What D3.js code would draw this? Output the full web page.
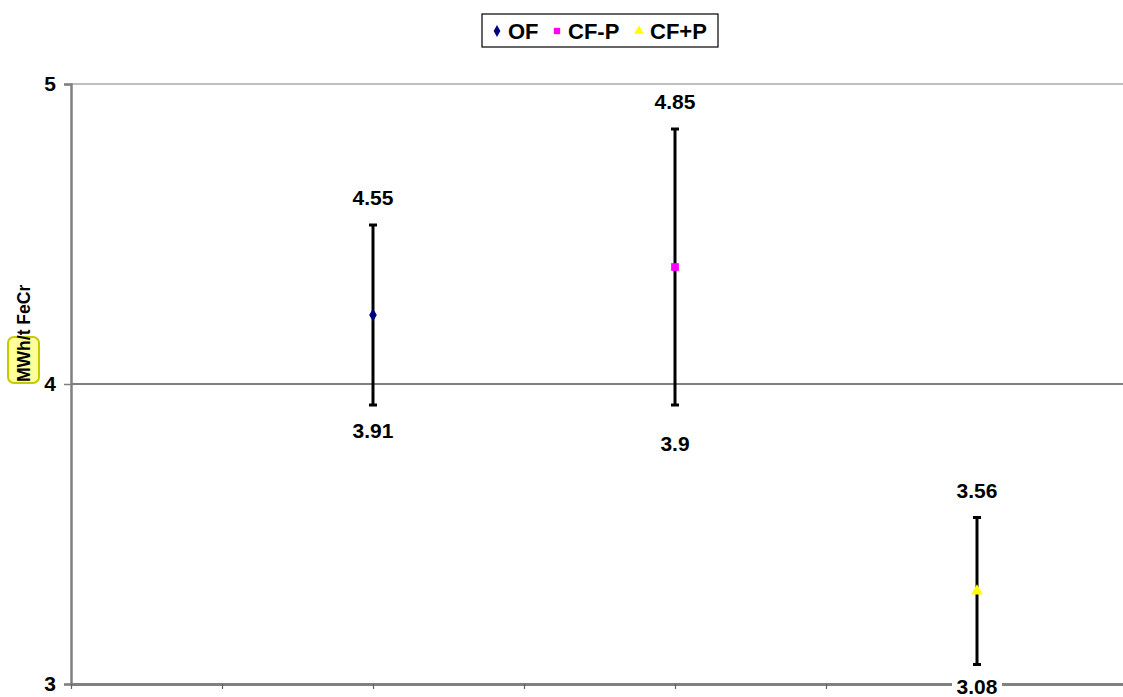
<!DOCTYPE html>
<html>
  <head>
    <meta charset="utf-8">
    <title>MWh/t FeCr</title>
    <script src="https://d3js.org/d3.v7.min.js"></script>
    <style>
      body { margin: 0; background: #fff; }
      svg { font-family: "Liberation Sans", Arial, sans-serif; font-weight: bold; }
    </style>
  </head>
  <body>
    <svg id="chart" width="1123" height="697"></svg>
    <script>
      // data
      var series = ["OF", "CF-P", "CF+P"];
      var means = [4.23, 4.39, 3.31];
      var errs = [0.30, 0.46, 0.245];
      var highLabels = ["4.55", "4.85", "3.56"];
      var lowLabels = ["3.91", "3.9", "3.08"];
      var yTicks = [3, 4, 5];
      var colors = ["#000080", "#ff00ff", "#ffff00"];
      var shapes = [d3.symbolDiamond, d3.symbolSquare, d3.symbolTriangle];

      var svg = d3.select("#chart");
      var margin = { left: 71, top: 84, bottom: 684 };

      // scales
      x = d3.scaleLinear().domain([0, 7]).range([margin.left, margin.left + 151 * 7]);
      y = d3.scaleLinear().domain([3, 5]).range([margin.bottom, margin.top]);
      var xPos = function(i) { return x(2 * (i + 1)); };

      // gridlines
      svg.append("g")
        .selectAll("line")
        .data(yTicks.filter(function(d) { return d > 3; }))
        .enter().append("line")
          .attr("x1", margin.left).attr("x2", 1123)
          .attr("y1", function(d) { return y(d); })
          .attr("y2", function(d) { return y(d); })
          .attr("stroke", function(d) { return d == 5 ? "#808080" : "#000"; })
          .attr("stroke-width", 1.2);

      // y axis
      var yAxis = svg.append("g")
        .attr("transform", "translate(" + margin.left + ",0)")
        .call(d3.axisLeft(y).tickValues(yTicks).tickSize(7).tickPadding(8).tickFormat(d3.format("d")));
      yAxis.select(".domain").attr("stroke", "#808080").attr("stroke-width", 2.5);
      yAxis.selectAll(".tick line").attr("stroke", "#808080").attr("stroke-width", 1.5);
      yAxis.selectAll(".tick text")
        .attr("font-size", 21).attr("font-weight", "bold").attr("fill", "#000")
        .attr("font-family", "Liberation Sans, Arial, sans-serif");

      // x axis
      var xAxis = svg.append("g")
        .attr("transform", "translate(0," + margin.bottom + ")")
        .call(d3.axisBottom(x).ticks(7).tickSize(5).tickSizeOuter(0).tickFormat(""));
      xAxis.select(".domain").attr("stroke", "#808080").attr("stroke-width", 3);
      xAxis.selectAll(".tick line").attr("stroke", "#606060").attr("stroke-width", 1.2);

      // y axis title
      var title = svg.append("g")
        .attr("transform", "translate(31,328) rotate(-90)");
      title.append("rect")
        .attr("x", -55).attr("y", -23).attr("width", 46).attr("height", 31)
        .attr("rx", 6)
        .attr("fill", "#ffff99").attr("stroke", "#c8c800").attr("stroke-width", 2);
      title.append("text")
        .attr("x", -54).attr("y", -1)
        .attr("font-size", 17.5)
        .text("MWh/t FeCr");

      // error bars
      var bars = svg.append("g")
        .selectAll("g")
        .data(series)
        .enter().append("g");
      bars.append("line")
        .attr("x1", function(d, i) { return xPos(i); })
        .attr("x2", function(d, i) { return xPos(i); })
        .attr("y1", function(d, i) { return y(means[i] + errs[i]); })
        .attr("y2", function(d, i) { return y(means[i] - errs[i]); })
        .attr("stroke", "#000").attr("stroke-width", 3);
      [1, -1].forEach(function(s) {
        bars.append("line")
          .attr("x1", function(d, i) { return xPos(i) - 4; })
          .attr("x2", function(d, i) { return xPos(i) + 4; })
          .attr("y1", function(d, i) { return y(means[i] + s * errs[i]); })
          .attr("y2", function(d, i) { return y(means[i] + s * errs[i]); })
          .attr("stroke", "#000").attr("stroke-width", 3);
      });

      // markers
      bars.append("path")
        .attr("d", function(d, i) { return d3.symbol().type(shapes[i]).size(i == 0 ? 50 : 60)(); })
        .attr("transform", function(d, i) { return "translate(" + xPos(i) + "," + y(means[i]) + ")"; })
        .attr("fill", function(d, i) { return colors[i]; });

      // value labels
      bars.append("text")
        .attr("x", function(d, i) { return xPos(i); })
        .attr("y", function(d, i) { return y(means[i] + errs[i]) - 20; })
        .attr("text-anchor", "middle")
        .attr("font-size", 21)
        .text(function(d, i) { return highLabels[i]; });
      var low = bars.append("g")
        .attr("transform", function(d, i) {
          var off = i == 1 ? 39 : (i == 2 ? 22 : 26);
          return "translate(" + xPos(i) + "," + (y(means[i] - errs[i]) + off) + ")";
        });
      low.filter(function(d, i) { return i == 2; }).append("rect")
        .attr("x", -25).attr("y", -9).attr("width", 50).attr("height", 18)
        .attr("fill", "#fff");
      low.append("text")
        .attr("text-anchor", "middle")
        .attr("dy", "0.35em")
        .attr("font-size", 21)
        .text(function(d, i) { return lowLabels[i]; });

      // legend
      var legend = svg.append("g");
      legend.append("rect")
        .attr("x", 482).attr("y", 14).attr("width", 236).attr("height", 33)
        .attr("fill", "#fff").attr("stroke", "#000").attr("stroke-width", 1.2);
      var legX = [497, 557, 639];
      var item = legend.selectAll(".item")
        .data(series)
        .enter().append("g")
          .attr("class", "item")
          .attr("transform", function(d, i) { return "translate(" + legX[i] + ",31)"; });
      item.append("path")
        .attr("d", function(d, i) { return d3.symbol().type(shapes[i]).size(40)(); })
        .attr("fill", function(d, i) { return colors[i]; });
      item.append("text")
        .attr("x", 11).attr("dy", "0.36em")
        .attr("font-size", 22)
        .text(function(d) { return d; });
    </script>
  </body>
</html>
